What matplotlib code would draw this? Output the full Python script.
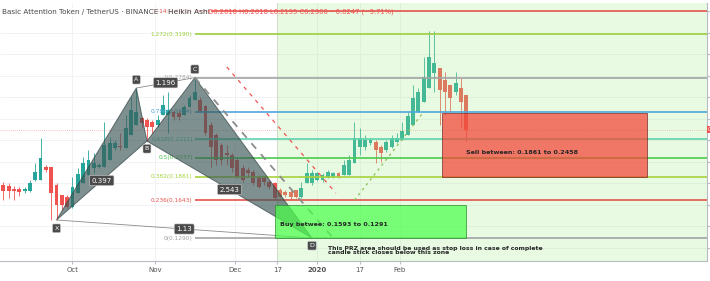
import numpy as np
import pandas as pd
import matplotlib
matplotlib.use("Agg")
from matplotlib import pyplot as plt
import matplotlib.dates as mdates
from matplotlib.patches import Polygon, Rectangle

# heikin ashi candles, 2 day bars
dates = pd.date_range("2019-09-05", periods=88, freq="2D")
opens = [.1784, .1774, .1746, .1746, .1728, .1728, .1830, .1830, .1951, .1951,
         .1784, .1690, .1672, .1579, .1709, .1802, .1877, .1942, .1951, .1951,
         .2016, .2128, .2147, .2128, .2249, .2342, .2408, .2389, .2370, .2342,
         .2436, .2436, .2464, .2454, .2436, .2510, .2575, .2575, .2519, .2342,
         .2249, .2156, .2082, .2063, .2016, .1942, .1923, .1905, .1858, .1849,
         .1812, .1802, .1737, .1718, .1718, .1737, .1672, .1802, .1802, .1830,
         .1830, .1849, .1858, .1895, .1877, .1877, .1988, .2138, .2138, .2175,
         .2184, .2138, .2110, .2138, .2184, .2203, .2249, .2342, .2464, .2557,
         .2687, .2827, .2873, .2762, .2715, .2650, .2687, .2618]
highs = [.1812, .1802, .1774, .1765, .1765, .1830, .1988, .2221, .1970, .1951,
         .1802, .1690, .1690, .1858, .1942, .2044, .2110, .2082, .1988, .2370,
         .2231, .2203, .2268, .2436, .2603, .2687, .2417, .2408, .2389, .2436,
         .2622, .2650, .2482, .2482, .2529, .2622, .2780, .2603, .2529, .2370,
         .2268, .2175, .2156, .2082, .2044, .1970, .1951, .1923, .1877, .1858,
         .1830, .1812, .1756, .1737, .1737, .1737, .1812, .1988, .1923, .1905,
         .1895, .1923, .1905, .1905, .2016, .2063, .2370, .2314, .2249, .2221,
         .2203, .2156, .2203, .2249, .2268, .2370, .2464, .2715, .2687, .2976,
         .3218, .3218, .2873, .2836, .2715, .2836, .2780, .2618]
lows = [.1644, .1662, .1644, .1681, .1709, .1718, .1821, .1830, .1905, .1458,
        .1458, .1551, .1569, .1569, .1709, .1802, .1877, .1895, .1942, .1951,
        .2016, .2110, .2110, .2128, .2249, .2342, .2314, .2193, .2268, .2324,
        .2436, .2268, .2389, .2389, .2436, .2510, .2575, .2464, .2249, .1951,
        .1970, .1970, .1970, .1905, .1849, .1812, .1858, .1784, .1756, .1784,
        .1746, .1644, .1662, .1672, .1644, .1662, .1662, .1802, .1784, .1821,
        .1812, .1849, .1849, .1849, .1877, .1877, .1988, .2063, .2110, .2156,
        .1988, .1998, .2091, .2128, .2175, .2203, .2249, .2342, .2464, .2557,
        .2687, .2650, .2342, .2436, .2464, .2622, .2324, .2195]
closes = [.1728, .1728, .1728, .1718, .1746, .1802, .1905, .2035, .1923, .1709,
          .1597, .1597, .1579, .1765, .1886, .1988, .2016, .1988, .1970, .2156,
          .2175, .2175, .2138, .2314, .2482, .2464, .2361, .2324, .2324, .2389,
          .2529, .2482, .2417, .2417, .2510, .2594, .2650, .2464, .2268, .2138,
          .2016, .2016, .2063, .1942, .1858, .1830, .1895, .1802, .1765, .1812,
          .1765, .1662, .1672, .1690, .1672, .1672, .1756, .1895, .1895, .1895,
          .1877, .1905, .1895, .1858, .1970, .2016, .2221, .2221, .2203, .2203,
          .2110, .2082, .2184, .2221, .2221, .2287, .2426, .2594, .2650, .2790,
          .2976, .2920, .2668, .2650, .2594, .2734, .2557, .2300]

# harmonic pattern
pat_names = ["X", "A", "B", "C", "D"]
pat_dates = ["2019-09-25", "2019-10-25", "2019-10-29", "2019-11-16", "2019-12-30"]
pat_prices = [0.1458, 0.2687, 0.2193, 0.2784, 0.1290]
ratio_labels = ["0.397", "1.196", "2.543", "1.13"]

# fib retracement
fib_ratio = ["1.414", "1.272", "1", "0.786", "0.618", "0.5", "0.382", "0.236", "0"]
fib_price = [0.3403, 0.3190, 0.2784, 0.2464, 0.2211, 0.2037, 0.1861, 0.1643, 0.1290]
fib_color = ["#e5534b", "#9ccf3a", "#a3a3a3", "#4ea6dc", "#5ed3ad",
             "#4cc94c", "#a6d23c", "#e5534b", "#a3a3a3"]

sell_box = (["2020-02-17", "2020-05-04"], [0.1861, 0.2458])
buy_box = (["2019-12-16", "2020-02-26"], [0.1291, 0.1593])
zone_start = "2019-12-17"

tick_dates = ["2019-10-01", "2019-11-01", "2019-12-01", "2019-12-17",
              "2020-01-01", "2020-01-17", "2020-02-01"]
tick_labels = ["Oct", "Nov", "Dec", "17", "2020", "17", "Feb"]
grid_prices = [0.12, 0.14, 0.16, 0.18, 0.20, 0.22, 0.24, 0.26, 0.28, 0.30, 0.32, 0.34]
last_close = 0.2300

d2n = lambda s: mdates.date2num(pd.Timestamp(s))

fig = plt.figure(figsize=(7.10, 2.81), dpi=100)
ax = fig.add_axes([0, 20 / 281, 707 / 710, 258 / 281])
x0 = d2n("2019-09-05")
ax.set_xlim(x0 - 1.24, x0 + 264.5)
ax.set_ylim(0.1076, 0.3479)

ax.set_yticks(grid_prices)
ax.set_xticks([d2n(t) for t in tick_dates])
ax.set_xticklabels(tick_labels)
ax.grid(True, color="#eef0f4", lw=0.6, zorder=0)
ax.set_axisbelow(True)
for s in ["top", "left"]:
    ax.spines[s].set_visible(False)
ax.spines["bottom"].set_color("#b8bbc4")
ax.spines["right"].set_color("#b8bbc4")
ax.yaxis.tick_right()
ax.tick_params(axis="y", length=2, color="#b8bbc4", labelright=False)
ax.tick_params(axis="x", length=2.5, color="#b8bbc4", labelsize=5, labelcolor="#555555", pad=2)
for lbl in ax.get_xticklabels():
    if lbl.get_text() == "2020":
        lbl.set_fontweight("bold")

# candles
xs = mdates.date2num(dates)
for x, o, h, l, c in zip(xs, opens, highs, lows, closes):
    col = "#26a69a" if c >= o else "#ef5350"
    ax.vlines(x, l, h, color=col, lw=0.6, zorder=2)
    ax.bar(x, max(abs(c - o), 0.0009), bottom=min(o, c), width=1.45, color=col, zorder=2)

ax.axhline(last_close, color="#ef5350", lw=0.5, ls=(0, (1, 2)), alpha=0.7, zorder=2)

# green zone over everything right of Dec 17
zx = d2n(zone_start)
ax.add_patch(Rectangle((zx, 0.0), 400, 1.0, fc="#a5f08c", alpha=0.25, ec="none", zorder=3))
ax.axvline(zx, color="#cfdcc8", lw=0.7, zorder=3)

# fib lines
cx = d2n(pat_dates[3])
for r, p, col in zip(fib_ratio, fib_price, fib_color):
    ax.hlines(p, cx, x0 + 270, color=col, lw=1.2, zorder=4)
    ax.annotate(f"{r}({p:.4f})", (cx, p), xytext=(-1.5, 0), textcoords="offset points",
                ha="right", va="center", fontsize=4.2, color=col, zorder=4)

# pattern
px = [d2n(d) for d in pat_dates]
pp = pat_prices
tri_kw = dict(fc="#3b5757", alpha=0.66, ec="#2d3d3d", lw=0.7, zorder=5)
ax.add_patch(Polygon([(px[0], pp[0]), (px[1], pp[1]), (px[2], pp[2])], closed=True, **tri_kw))
ax.add_patch(Polygon([(px[2], pp[2]), (px[3], pp[3]), (px[4], pp[4])], closed=True, **tri_kw))
ax.plot([px[0], px[4]], [pp[0], pp[4]], color="#8a8a8a", lw=0.6, zorder=5)
ax.plot([px[1], px[3]], [pp[1], pp[3]], color="#8a8a8a", lw=0.6, zorder=5)

box = dict(boxstyle="round,pad=0.3,rounding_size=0.2", fc="#4a4a4a", ec="#d0d0d0", lw=0.4)
offs = [-6, 6, -5.5, 6, -5.5]
for n, x, p, dy in zip(pat_names, px, pp, offs):
    ax.annotate(n, (x, p), xytext=(0, dy), textcoords="offset points", ha="center",
                va="center", fontsize=4.5, color="white", bbox=box, zorder=8)
pairs = [(0, 2), (1, 3), (2, 4), (0, 4)]
for lbl, (i, j) in zip(ratio_labels, pairs):
    ax.text((px[i] + px[j]) / 2, (pp[i] + pp[j]) / 2, lbl, ha="center", va="center",
            fontsize=5, color="white", bbox=box, zorder=8)

# dashed guide lines
ax.plot([d2n("2019-11-28"), d2n("2020-01-08")], [0.2883, 0.1709], color="#ef5350",
        lw=0.9, ls=(0, (3, 4)), zorder=5)
ax.plot([px[3], d2n("2020-01-07")], [pp[3], 0.1290], color="#8c8c8c",
        lw=1.3, ls=(0, (4, 4)), zorder=5)
ax.plot([d2n("2020-01-15"), d2n("2020-02-10")], [0.1644, 0.2464], color="#8cbf5a",
        lw=0.9, ls=(0, (2, 3)), zorder=5)

# boxes
sx = [d2n(d) for d in sell_box[0]]
ax.add_patch(Rectangle((sx[0], sell_box[1][0]), sx[1] - sx[0], sell_box[1][1] - sell_box[1][0],
                       fc="#f44336", alpha=0.72, ec="#7a2a2a", lw=0.7, zorder=6))
bx = [d2n(d) for d in buy_box[0]]
ax.add_patch(Rectangle((bx[0], buy_box[1][0]), bx[1] - bx[0], buy_box[1][1] - buy_box[1][0],
                       fc="#4cff4c", alpha=0.72, ec="#2e8b2e", lw=0.7, zorder=6))

txt_kw = dict(fontsize=4.6, fontweight="bold", color="#262626", zorder=8)
ax.text(d2n("2020-02-26"), 0.2082, "Sell between: 0.1861 to 0.2458", ha="left", va="center", **txt_kw)
ax.text(d2n("2019-12-18"), 0.1420, "Buy betwee: 0.1593 to 0.1291", ha="left", va="center", **txt_kw)
ax.text(d2n("2020-01-05"), 0.1174,
        "This PRZ area should be used as stop loss in case of complete\ncandle stick closes below this zone",
        ha="left", va="center", linespacing=0.95, fontsize=4.4, fontweight="bold",
        color="#262626", zorder=8)

# price tag at right edge
ax.text(1.001, last_close, "0.23", transform=ax.get_yaxis_transform(), ha="left", va="center",
        fontsize=4.0, color="white", bbox=dict(fc="#ef5350", ec="none", pad=0.8), clip_on=False)

# header, on a light backing so the 1.414 label shows only faintly
hy = 1 - 12 / 281
fig.text(2 / 710, hy, "Basic Attention Token / TetherUS \u00b7 BINANCE",
         fontsize=5.2, color="#4a4a4a", va="center",
         bbox=dict(fc="white", ec="none", alpha=0.75, pad=0.5))
fig.text(168 / 710, hy, "Heikin Ashi", fontsize=5.4, color="#3a3a3a", va="center",
         bbox=dict(fc="white", ec="none", alpha=0.75, pad=0.5))
fig.text(208 / 710, hy, "O0.2618 H0.2618 L0.2195 C0.2300 \u22120.0247 (\u22129.71%)",
         fontsize=4.9, color="#ef5350", va="center")

fig.savefig("out.png", dpi=100)
